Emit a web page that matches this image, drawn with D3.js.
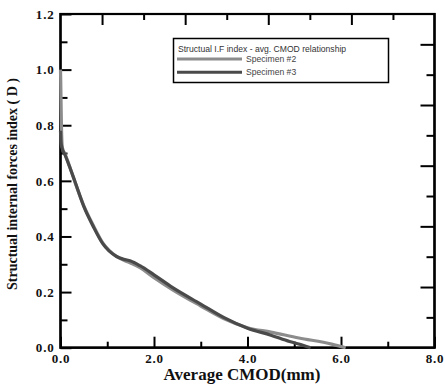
<!DOCTYPE html>
<html lang="en">
<head>
<meta charset="utf-8">
<title>Structual I.F index - avg. CMOD relationship</title>
<script src="https://d3js.org/d3.v7.min.js"></script>
<style>
  body { margin: 0; background: #fff; }
  .tick text { font-family: "Liberation Serif", "Times New Roman", serif; font-weight: bold; font-size: 13px; letter-spacing: 0.8px; fill: #111; }
</style>
</head>
<body>
<script>
// specimen #2 (lighter grey)
const spec2X = [0, 0.005, 0.01, 0.02, 0.04, 0.1, 0.2, 0.3, 0.5, 0.7, 0.9, 1.2, 1.45, 1.7, 2.0, 2.4, 3.0, 3.5, 4.0, 4.5, 5.1, 5.8, 6.1];
const spec2Y = [1.0, 0.96, 0.9, 0.8, 0.72, 0.695, 0.65, 0.6, 0.51, 0.44, 0.378, 0.328, 0.308, 0.288, 0.252, 0.208, 0.15, 0.104, 0.072, 0.056, 0.035, 0.013, 0.0];
// specimen #3 (darker grey)
const spec3X = [0, 0.01, 0.03, 0.1, 0.2, 0.3, 0.5, 0.7, 0.9, 1.2, 1.35, 1.5, 1.7, 2.0, 2.4, 3.0, 3.5, 4.0, 4.5, 4.9, 5.2, 5.35];
const spec3Y = [0.78, 0.74, 0.72, 0.692, 0.648, 0.602, 0.507, 0.436, 0.375, 0.328, 0.318, 0.312, 0.295, 0.262, 0.216, 0.157, 0.108, 0.07, 0.045, 0.022, 0.008, 0.0];

const xTicks = [0, 2, 4, 6, 8];
const yTicks = [0, 0.2, 0.4, 0.6, 0.8, 1.0, 1.2];
const legendTitle = "Structual I.F index - avg. CMOD relationship";
const seriesNames = ["Specimen #2", "Specimen #3"];
const seriesColors = ["#8c8c8c", "#4a4a4a"];

const w = 445, h = 388;
const padL = 60.5, padR = 434.5, padT = 14, padB = 347.7;
const ink = "#000";

const svg = d3.select("body").append("svg")
  .attr("width", w).attr("height", h);

const x = d3.scaleLinear().domain([0, 8]).range([padL, padR]);
const y = d3.scaleLinear().domain([0, 1.2]).range([padB, padT]);
// frame ticks on top / right are spaced on their own
const xTop = d3.scaleLinear().domain([0, 9]).range([padL, padR]);
const yRight = d3.scaleLinear().domain([0, 11]).range([padB, padT]);

// frame, drawn as a filled border under everything else
svg.append("rect")
  .attr("x", padL - 1.1).attr("y", padT - 1.1)
  .attr("width", padR - padL + 2.2).attr("height", padB - padT + 2.2)
  .attr("fill", ink);
svg.append("rect")
  .attr("x", padL + 1.1).attr("y", padT + 1.1)
  .attr("width", padR - padL - 2.2).attr("height", padB - padT - 2.2)
  .attr("fill", "#fff");
svg.append("path")
  .attr("d", `M${padL},${padT}H${padR}V${padB}H${padL}Z`)
  .attr("fill", "none").attr("stroke", ink).attr("stroke-width", 2.2);

function styleTicks(g) {
  g.select(".domain").remove();
  g.selectAll(".tick line").attr("stroke", ink).attr("stroke-width", 2);
}

// bottom: minor + major ticks with labels
svg.append("g")
  .attr("transform", "translate(0," + padB + ")")
  .call(d3.axisTop(x).tickValues(d3.range(1, 8, 2)).tickSize(6).tickFormat(""))
  .call(styleTicks);
svg.append("g")
  .attr("transform", "translate(0," + padB + ")")
  .call(d3.axisTop(x).tickValues(xTicks).tickSize(11).tickFormat(d3.format(".1f")))
  .call(styleTicks)
  .call(g => g.selectAll("text").attr("y", 15).attr("dy", 0));

// left: minor + major ticks with labels
svg.append("g")
  .attr("transform", "translate(" + padL + ",0)")
  .call(d3.axisRight(y).tickValues(d3.range(1, 12, 2).map(d => d / 10)).tickSize(7).tickFormat(""))
  .call(styleTicks);
svg.append("g")
  .attr("transform", "translate(" + padL + ",0)")
  .call(d3.axisRight(y).tickValues(yTicks).tickSize(11).tickFormat(d3.format(".1f")))
  .call(styleTicks)
  .call(g => g.selectAll("text").attr("x", -6).attr("text-anchor", "end"));

// top and right ticks
svg.append("g")
  .attr("transform", "translate(0," + padT + ")")
  .call(d3.axisBottom(xTop).tickValues(d3.range(1, 9)).tickSize(6).tickFormat(""))
  .call(styleTicks)
  .call(g => g.selectAll(".tick line").attr("y2", d => d % 2 ? 11 : 6));
svg.append("g")
  .attr("transform", "translate(" + padR + ",0)")
  .call(d3.axisLeft(yRight).tickValues(d3.range(1, 11)).tickSize(8).tickFormat(""))
  .call(styleTicks)
  .call(g => g.selectAll(".tick line").attr("x2", d => d % 2 ? -8 : -14));

// curves
const line = d3.line().x(d => x(d[0])).y(d => y(d[1])).curve(d3.curveMonotoneX);
const series = [
  d3.zip(spec2X, spec2Y),
  d3.zip(spec3X, spec3Y)
];
series.forEach((s, i) => {
  svg.append("path")
    .datum(s)
    .attr("fill", "none")
    .attr("stroke", seriesColors[i])
    .attr("stroke-width", 3.2)
    .attr("d", line);
});

// axis titles
svg.append("text")
  .attr("x", 242).attr("y", 380)
  .attr("text-anchor", "middle")
  .style("font-family", "Liberation Serif, serif")
  .style("font-weight", "bold").style("font-size", "17px").style("fill", "#111")
  .text("Average CMOD(mm)");
svg.append("text")
  .attr("transform", "translate(17,184) rotate(-90)")
  .attr("text-anchor", "middle")
  .style("font-family", "Liberation Serif, serif")
  .style("font-weight", "bold").style("font-size", "14px").style("fill", "#111")
  .text("Structual internal forces index ( D )");

// legend
const lg = svg.append("g");
lg.append("rect")
  .attr("x", 173.5).attr("y", 38.5).attr("width", 215).attr("height", 44)
  .attr("fill", "#fff").attr("stroke", ink).attr("stroke-width", 1.5);
lg.append("text")
  .attr("x", 178).attr("y", 51.5)
  .style("font-family", "Liberation Sans, Arial, sans-serif")
  .style("font-size", "8.6px").style("fill", "#333")
  .text(legendTitle);
seriesNames.forEach((name, i) => {
  const yy = 59 + i * 13.3;
  lg.append("line")
    .attr("x1", 177).attr("x2", 242).attr("y1", yy).attr("y2", yy)
    .attr("stroke", seriesColors[i]).attr("stroke-width", 3);
  lg.append("text")
    .attr("x", 246).attr("y", yy + 3)
    .style("font-family", "Liberation Sans, Arial, sans-serif")
    .style("font-size", "8.6px").style("fill", "#444")
    .text(name);
});
</script>
</body>
</html>
